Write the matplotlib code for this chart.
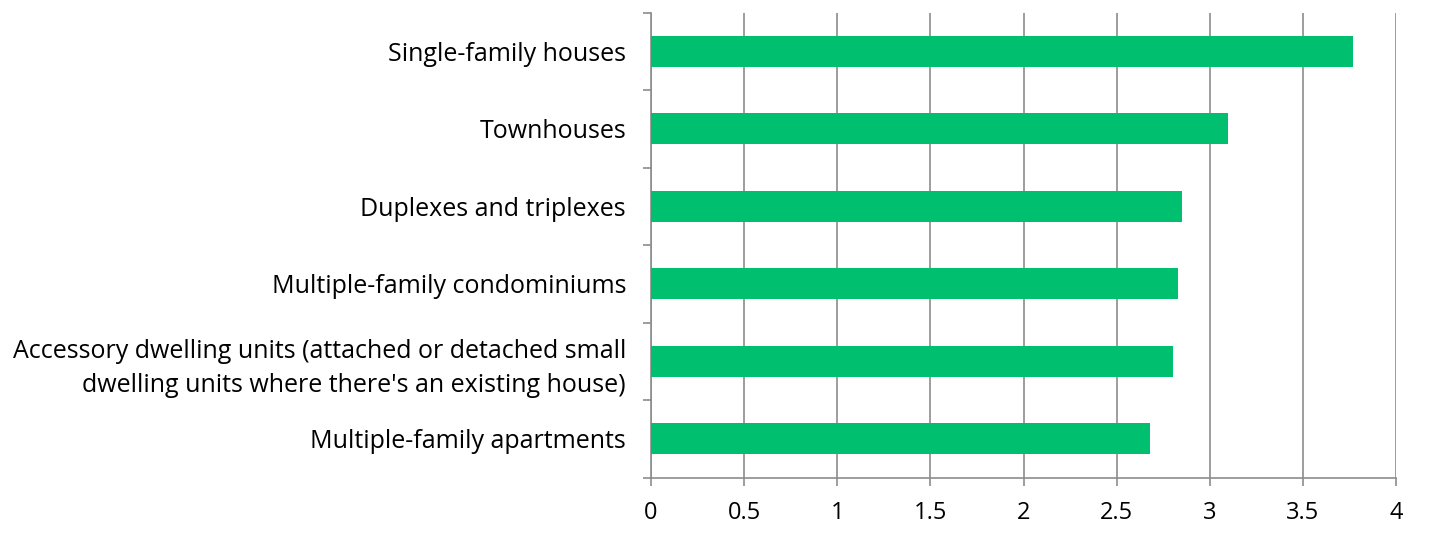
import numpy as np
import matplotlib
matplotlib.use('Agg')
import matplotlib.pyplot as plt
from matplotlib.ticker import FixedLocator

plt.rcParams['font.family'] = ['Open Sans', 'DejaVu Sans']

categories = [
    'Single-family houses',
    'Townhouses',
    'Duplexes and triplexes',
    'Multiple-family condominiums',
    'Accessory dwelling units (attached or detached small\ndwelling units where there\'s an existing house)',
    'Multiple-family apartments',
]
values = [3.77, 3.10, 2.85, 2.83, 2.80, 2.68]
x_ticks = [0, 0.5, 1, 1.5, 2, 2.5, 3, 3.5, 4]
x_labels = ['0', '0.5', '1', '1.5', '2', '2.5', '3', '3.5', '4']

bar_color = '#00BF6F'
grid_color = '#8C8C8C'

fig = plt.figure(figsize=(14.29, 5.39), dpi=100)
ax = fig.add_axes([0.4556, 0.1137, 0.5213, 0.8627])

y = np.arange(len(categories))
ax.barh(y, values, height=0.4, color=bar_color, zorder=3)

ax.set_xlim(0, 4)
ax.set_ylim(len(categories) - 0.5, -0.5)
ax.set_xticks(x_ticks)
ax.set_xticklabels(x_labels)
ax.grid(axis='x', color=grid_color, linewidth=1.2, zorder=0)

ax.set_yticks(y)
ax.set_yticklabels(categories, ha='right', linespacing=1.45)
ax.yaxis.set_minor_locator(FixedLocator(np.arange(-0.5, len(categories), 1.0)))
ax.tick_params(axis='y', which='major', length=0, pad=18, labelsize=18)
ax.tick_params(axis='y', which='minor', length=6, color=grid_color, width=1.2)
ax.tick_params(axis='x', length=6, color=grid_color, width=1.2, pad=11, labelsize=17)

for s in ['top', 'right']:
    ax.spines[s].set_visible(False)
for s in ['left', 'bottom']:
    ax.spines[s].set_color(grid_color)
    ax.spines[s].set_linewidth(1.2)

fig.savefig('out.png', dpi=100)
